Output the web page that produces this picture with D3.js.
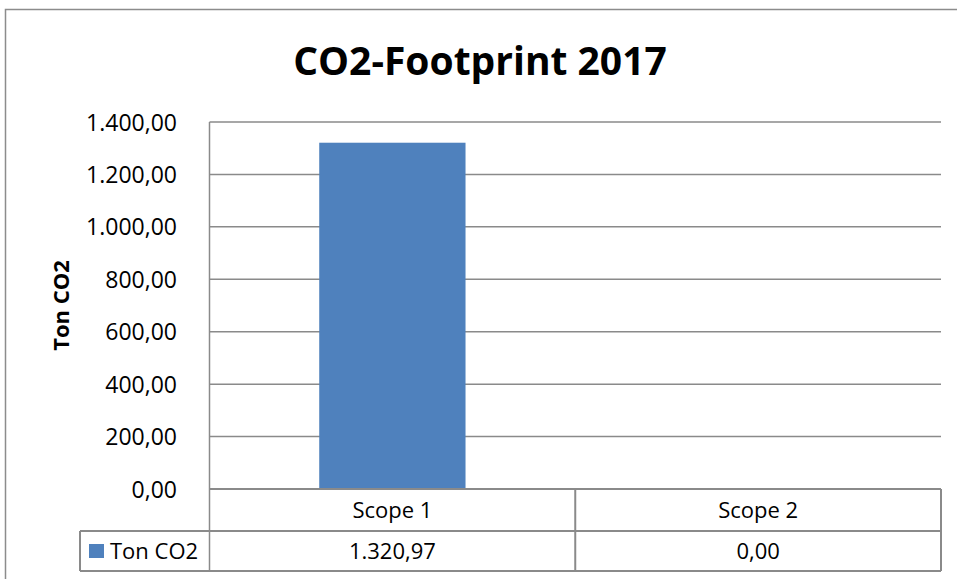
<!DOCTYPE html>
<html>
<head>
<meta charset="utf-8">
<script src="https://cdn.jsdelivr.net/npm/d3@7"></script>
<style>
  html, body { margin: 0; padding: 0; background: #fff; }
  svg { display: block; }
</style>
</head>
<body>
<svg id="chart" width="957" height="579"></svg>
<script>
const title = "CO2-Footprint 2017";
const seriesName = "Ton CO2";
const categories = ["Scope 1", "Scope 2"];
const values = [1320.97, 0];
const yTicks = [0, 200, 400, 600, 800, 1000, 1200, 1400];

const svg = d3.select("#chart");
const plot = { left: 209.5, right: 941, top: 122, bottom: 489 };
const row1Bottom = 531, row2Bottom = 571, tableLeft = 80;
const gridColor = "#8a8a8a";
const barColor = "#4F81BD";
const font = "'Open Sans', 'Liberation Sans', sans-serif";

const locale = d3.formatLocale({ decimal: ",", thousands: ".", grouping: [3], currency: ["", ""] });
const fmt = locale.format(",.2f");

// outer chart border (extends beyond the viewport on right and bottom)
svg.append("rect").attr("x", 5.5).attr("y", 9.5).attr("width", 1200).attr("height", 1200)
  .attr("fill", "none").attr("stroke", "#8c8c8c").attr("stroke-width", 1.5);

const y = d3.scaleLinear().domain([0, 1400]).range([plot.bottom, plot.top]);
const x = d3.scaleBand().domain(categories).range([plot.left, plot.right]).padding(0);

// gridlines
svg.append("g").selectAll("line").data(yTicks.filter(d => d > 0)).join("line")
  .attr("x1", plot.left).attr("x2", plot.right)
  .attr("y1", d => y(d)).attr("y2", d => y(d))
  .attr("stroke", gridColor).attr("stroke-width", 1.5);

// y axis labels
const yAxis = d3.axisLeft(y).tickValues(yTicks).tickFormat(fmt).tickSize(0).tickPadding(0);
const ya = svg.append("g").attr("transform", `translate(177,0)`).call(yAxis);
ya.select(".domain").remove();
ya.selectAll("text").attr("font-family", font).attr("font-size", 23).attr("fill", "#000").attr("dy", "0.35em");

// bars
const barW = x.bandwidth() / 2.5;
svg.append("g").selectAll("rect").data(categories).join("rect")
  .attr("x", d => x(d) + (x.bandwidth() - barW) / 2)
  .attr("width", barW)
  .attr("y", (d, i) => y(values[i]))
  .attr("height", (d, i) => y(0) - y(values[i]))
  .attr("fill", barColor);

// table lines
const tg = svg.append("g").attr("stroke", gridColor).attr("stroke-width", 2).attr("fill", "none");
tg.append("line").attr("x1", plot.left).attr("x2", plot.left).attr("y1", plot.top).attr("y2", row2Bottom).attr("stroke-width", 1.5);
tg.append("line").attr("x1", plot.left).attr("x2", plot.right).attr("y1", plot.bottom).attr("y2", plot.bottom);
tg.append("line").attr("x1", tableLeft).attr("x2", plot.right).attr("y1", row1Bottom).attr("y2", row1Bottom);
tg.append("line").attr("x1", tableLeft).attr("x2", plot.right).attr("y1", row2Bottom).attr("y2", row2Bottom);
tg.append("line").attr("x1", tableLeft).attr("x2", tableLeft).attr("y1", row1Bottom).attr("y2", row2Bottom);
tg.selectAll(".div").data(categories.slice(1)).join("line")
  .attr("x1", d => x(d)).attr("x2", d => x(d)).attr("y1", plot.bottom).attr("y2", row2Bottom);
tg.append("line").attr("x1", plot.right).attr("x2", plot.right).attr("y1", plot.bottom).attr("y2", row2Bottom);

// header labels
svg.append("g").selectAll("text").data(categories).join("text")
  .attr("x", d => x(d) + x.bandwidth() / 2).attr("y", (plot.bottom + row1Bottom) / 2)
  .attr("dy", "0.35em").attr("text-anchor", "middle")
  .attr("font-family", font).attr("font-size", 22).text(d => d);

// values row
svg.append("g").selectAll("text").data(categories).join("text")
  .attr("x", d => x(d) + x.bandwidth() / 2).attr("y", (row1Bottom + row2Bottom) / 2)
  .attr("dy", "0.35em").attr("text-anchor", "middle")
  .attr("font-family", font).attr("font-size", 22).text((d, i) => fmt(values[i]));

// legend key in table
svg.append("rect").attr("x", 89).attr("y", 544).attr("width", 15).attr("height", 14).attr("fill", barColor);
svg.append("text").attr("x", 110).attr("y", (row1Bottom + row2Bottom) / 2).attr("dy", "0.35em")
  .attr("font-family", font).attr("font-size", 22).text(seriesName);

// y axis title
svg.append("text").attr("transform", `translate(69,${(plot.top + plot.bottom) / 2}) rotate(-90)`)
  .attr("text-anchor", "middle").attr("font-family", font).attr("font-weight", "bold")
  .attr("font-size", 22).text(seriesName);

// chart title
svg.append("text").attr("x", 480).attr("y", 75).attr("text-anchor", "middle")
  .attr("font-family", font).attr("font-weight", "bold").attr("font-size", 39).text(title);
</script>
</body>
</html>
